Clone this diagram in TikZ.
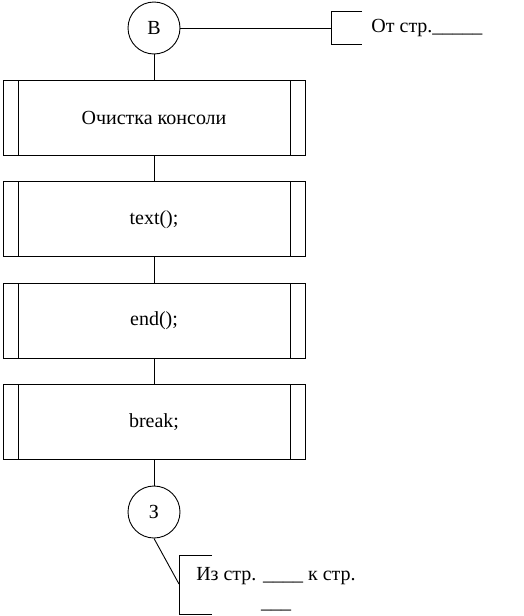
\documentclass[tikz,border=0pt]{standalone}
\usepackage{fontspec}
\setmainfont{Liberation Serif}
\usetikzlibrary{positioning,calc}

\begin{document}
\begin{tikzpicture}[x=1pt,y=1pt,line width=0.9pt,
    font=\fontsize{20}{24}\selectfont,
    node distance=25.5pt,
    connector/.style={draw,circle,minimum size=52pt,inner sep=0pt},
    subproc/.style={draw,rectangle,minimum width=302pt,minimum height=75pt,
      path picture={
        \draw ([xshift=15pt]path picture bounding box.north west)
          -- ([xshift=15pt]path picture bounding box.south west);
        \draw ([xshift=-15pt]path picture bounding box.north east)
          -- ([xshift=-15pt]path picture bounding box.south east);}}]
  \useasboundingbox (0,0) rectangle (524,-616);
  % entry connector
  \node[connector] (b) at (154,-28) {В};
  \node[subproc,below=of b] (clr) {Очистка консоли};
  \node[subproc,below=of clr] (txt) {text();};
  \node[subproc,below=of txt] (fin) {end();};
  \node[subproc,below=of fin] (brk) {break;};
  \node[connector,below=of brk] (z) {З};
  \draw (b) -- (clr);
  \draw (clr) -- (txt);
  \draw (txt) -- (fin);
  \draw (fin) -- (brk);
  \draw (brk) -- (z);
  % page references
  \coordinate (fromref) at (331,-28);
  \draw (b) -- (fromref);
  \draw ([shift={(31,17)}]fromref) -| ([yshift=-16]fromref) -- ++(31,0);
  \node[anchor=west,inner sep=0pt] (fromtxt) at (371,-28) {От стр.\_\_\_\_\_};
  \coordinate (toref) at (179,-584);
  \draw (z.south) -- (toref);
  \draw ([shift={(33,29)}]toref) -| ([yshift=-30]toref) -- ++(33,0);
  \node[align=center,inner sep=0pt] (totxt) at (276,-589)
    {Из стр. \_\_\_\_ к стр.\\[4pt]\_\_\_};
\end{tikzpicture}
\end{document}
